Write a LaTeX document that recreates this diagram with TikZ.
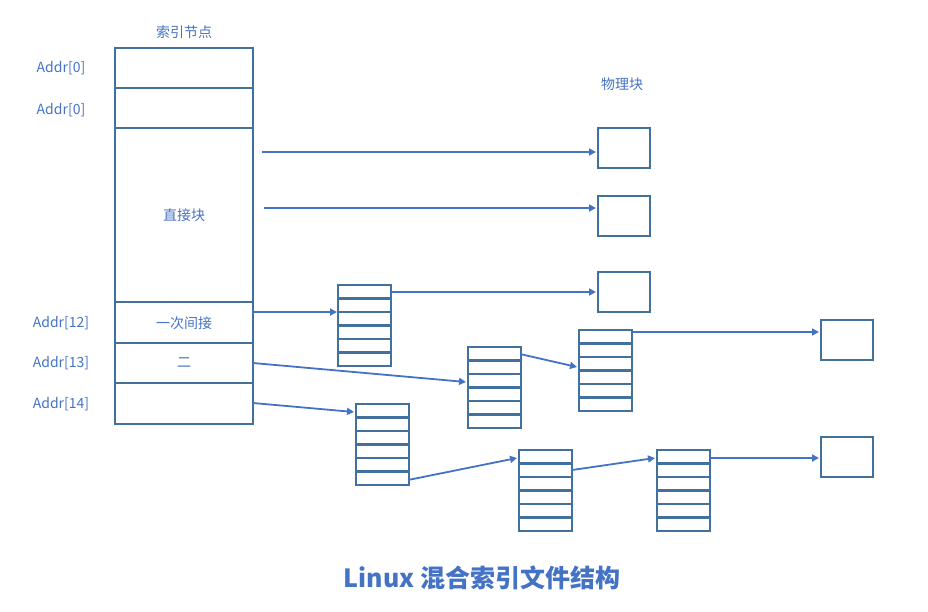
\documentclass[tikz,border=0pt]{standalone}
\usepackage{fontspec}
\setmainfont{Noto Sans CJK SC}
\usetikzlibrary{arrows.meta}
\definecolor{bx}{HTML}{41719C}
\definecolor{ar}{HTML}{4472C4}
\begin{document}
\begin{tikzpicture}[x=1pt,y=-1pt,
  box/.style={draw=bx,line width=1.8pt},
  inl/.style={draw=bx,line width=2.4pt},
  lab/.style={text=ar,font=\fontsize{14}{16}\selectfont,inner sep=0pt},
  arr/.style={draw=ar,line width=1.8pt,-{Triangle[length=7pt,width=7pt]}}]
\useasboundingbox (0,0) rectangle (928,611);
% index node
\draw[box] (115,48) rectangle (253,424);
\foreach \y in {88,128,302,343,383} \draw[box] (115,\y) -- (253,\y);
\node[lab] (t1) at (184,32) {索引节点};
\node[lab] (a0) at (61,68) {Addr[0]};
\node[lab] (a1) at (61,110) {Addr[0]};
\node[lab] (a12) at (61,323) {Addr[12]};
\node[lab] (a13) at (61,363) {Addr[13]};
\node[lab] (a14) at (61,404) {Addr[14]};
\node[lab] (zj) at (184,215) {直接块};
\node[lab] (yc) at (184,323) {一次间接};
\node[lab] (er) at (184,363) {二};
\node[lab] (wl) at (622,84) {物理块};
% physical blocks
\foreach \n/\x/\y in {p1/598/128,p2/598/196,p3/598/272,p4/821/320,p5/821/437}
  \draw[box] (\x,\y) rectangle +(52,40) coordinate (\n);
% index stacks
\foreach \n/\x/\y in {A/338/285,B/468/347,C/579/330,D/356/404,E/519/450,F/657/450}{
  \foreach \k in {1,...,5} \draw[inl] (\x,\y+13.5*\k) -- +(53,0);
  \draw[box] (\x,\y) rectangle +(53,81);
}
\coordinate (s1) at (262,152); \coordinate (e1) at (596,152);
\coordinate (s2) at (264,208); \coordinate (e2) at (596,208);
\draw[arr] (s1) -- (e1);
\draw[arr] (s2) -- (e2);
\draw[arr] (391,292) -- (596,292);
\draw[arr] (253,312) -- (337,312);
\draw[arr] (253,363) -- (466,382);
\draw[arr] (253,403) -- (354,412);
\draw[arr] (520,354) -- (577,367);
\draw[arr] (632,332) -- (819,332);
\draw[arr] (408,480) -- (517,458);
\draw[arr] (572,470) -- (655,458);
\draw[arr] (710,458) -- (819,458);
\node[text=ar,font=\fontsize{25}{30}\selectfont\bfseries] (title) at (482,578) {Linux 混合索引文件结构};
\end{tikzpicture}
\end{document}
